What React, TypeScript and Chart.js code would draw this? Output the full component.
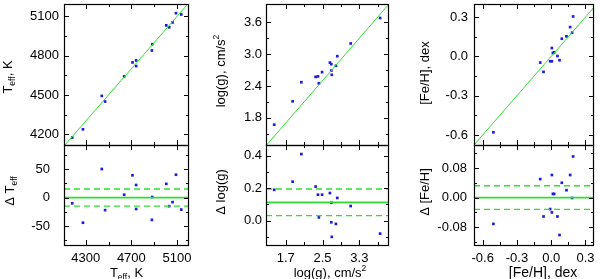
import React, { useEffect, useRef } from "react";
import { Chart, registerables } from "chart.js";
Chart.register(...registerables);

const FONT = '"Liberation Sans", Arial, Helvetica, sans-serif';
const BLUE = "#1c1ce0";
const GREEN = "#2ee02e";

// ---------- Teff ----------
const teffRef = [4182, 4276, 4441, 4470, 4637, 4710, 4742, 4742, 4883, 4880, 5006, 5032, 5061, 5091, 5137];
const teffObs = [4175, 4238, 4493, 4450, 4642, 4749, 4764, 4721, 4888, 4840, 5032, 5017, 5054, 5125, 5115];
const teffDelta = [-10, -44, 50, -22, 5, 39, 22, -20, 1, -39, 24, -15, -8, 40, -21];
const teffMean = 0;
const teffBand = 15;
const teffXTicks = [4300, 4700, 5100];
const teffXMinor = [4500, 4900];
const teffYTicks = [4200, 4500, 4800, 5100];
const teffYMinor = [4350, 4650, 4950];
const teffDTicks = [-50, 0, 50];
const teffDMinor = [-75, -25, 25, 75];

// ---------- log g ----------
const loggRef = [1.45, 1.85, 2.04, 2.35, 2.40, 2.49, 2.42, 2.66, 2.69, 2.69, 2.82, 2.79, 2.70, 3.11, 3.75];
const loggObs = [1.67, 2.11, 2.47, 2.57, 2.58, 2.66, 2.45, 2.84, 2.81, 2.69, 2.96, 2.78, 2.61, 3.20, 3.68];
const loggDelta = [0.19, 0.24, 0.41, 0.21, 0.16, 0.16, 0.02, 0.17, 0.11, -0.01, 0.14, -0.02, -0.10, 0.09, -0.08];
const loggMean = 0.113;
const loggBand = 0.082;
const loggXTicks = [1.7, 2.5, 3.3];
const loggXMinor = [2.1, 2.9, 3.7];
const loggYTicks = [1.8, 2.4, 3.0, 3.6];
const loggYMinor = [1.5, 2.1, 2.7, 3.3];
const loggDTicks = [0.0, 0.2, 0.4];
const loggDMinor = [-0.1, 0.1, 0.3];

// ---------- [Fe/H] ----------
const fehRef = [-0.506, -0.096, -0.067, -0.009, 0.006, 0.006, 0.015, 0.026, 0.055, 0.073, 0.093, 0.134, 0.166, 0.183, 0.192];
const fehObs = [-0.579, -0.047, -0.118, -0.037, 0.064, -0.037, 0.026, 0.031, 0.003, -0.029, 0.135, 0.153, 0.224, 0.181, 0.305];
const fehDelta = [-0.071, 0.050, -0.051, -0.031, 0.061, -0.040, 0.010, 0.010, -0.051, -0.101, 0.040, 0.020, 0.061, -0.001, 0.111];
const fehMean = 0.0;
const fehBand = 0.032;
const fehXTicks = [-0.6, -0.3, 0.0, 0.3];
const fehXMinor = [-0.45, -0.15, 0.15];
const fehYTicks = [-0.6, -0.3, 0.0, 0.3];
const fehYMinor = [-0.45, -0.15, 0.15];
const fehDTicks = [-0.08, 0.0, 0.08];
const fehDMinor = [-0.12, -0.04, 0.04, 0.12];

// axis ranges
const teffX = [4110, 5205];
const teffY = [4118, 5195];
const teffD = [-83, 92];
const loggX = [1.272, 3.943];
const loggY = [1.287, 3.944];
const loggD = [-0.15, 0.466];
const fehX = [-0.676, 0.375];
const fehY = [-0.676, 0.4];
const fehD = [-0.128, 0.142];

type Part = { t: string; s?: number; dy?: number };
type TitleSpec = { parts: Part[]; x: number; y: number; rot: boolean };

type PanelCfg = {
  ox: number; oy: number; w: number; h: number;
  L: number; R: number; T: number; B: number;
  xr: number[]; yr: number[];
  xMajor: number[]; xMinor: number[]; yMajor: number[]; yMinor: number[];
  showX: boolean; xDec: number; yDec: number; yPad: number;
  datasets: any[];
  titles: TitleSpec[];
};

function pointsSet(xs: number[], ys: number[]) {
  return {
    data: xs.map((x, i) => ({ x, y: ys[i] })),
    pointStyle: "rect",
    pointRadius: 1.9,
    pointBorderWidth: 0,
    backgroundColor: BLUE,
    borderColor: BLUE,
    showLine: false,
  };
}

function lineSet(x0: number, y0: number, x1: number, y1: number, width: number, dash: number[]) {
  return {
    data: [{ x: x0, y: y0 }, { x: x1, y: y1 }],
    showLine: true,
    borderColor: GREEN,
    borderWidth: width,
    borderDash: dash,
    pointRadius: 0,
    fill: false,
  };
}

function drawRich(ctx: CanvasRenderingContext2D, parts: Part[], x: number, y: number, rot: boolean) {
  ctx.save();
  ctx.fillStyle = "#000";
  ctx.textBaseline = "alphabetic";
  ctx.textAlign = "left";
  let total = 0;
  const widths = parts.map((p) => {
    ctx.font = `${p.s ?? 13}px ${FONT}`;
    const w = ctx.measureText(p.t).width;
    total += w;
    return w;
  });
  ctx.translate(x, y);
  if (rot) ctx.rotate(-Math.PI / 2);
  let cx = -total / 2;
  parts.forEach((p, i) => {
    ctx.font = `${p.s ?? 13}px ${FONT}`;
    ctx.fillText(p.t, cx, p.dy ?? 0);
    cx += widths[i];
  });
  ctx.restore();
}

const X_LABEL_Y = 258; // page y of x tick label centres

function makeConfig(p: PanelCfg): any {
  const framePlugin = {
    id: "frame",
    afterDraw(chart: any) {
      const { ctx, chartArea: a, scales } = chart;
      const xs = scales.x, ys = scales.y;
      ctx.save();
      ctx.strokeStyle = "#000";
      ctx.lineWidth = 1;
      ctx.beginPath();
      const vt = (vals: number[], len: number) => {
        vals.forEach((v) => {
          const px = Math.round(xs.getPixelForValue(v)) + 0.5;
          ctx.moveTo(px, a.bottom);
          ctx.lineTo(px, a.bottom - len);
          ctx.moveTo(px, a.top);
          ctx.lineTo(px, a.top + len);
        });
      };
      const ht = (vals: number[], len: number) => {
        vals.forEach((v) => {
          const py = Math.round(ys.getPixelForValue(v)) + 0.5;
          ctx.moveTo(a.left, py);
          ctx.lineTo(a.left + len, py);
          ctx.moveTo(a.right, py);
          ctx.lineTo(a.right - len, py);
        });
      };
      vt(p.xMajor, 5);
      vt(p.xMinor, 3);
      ht(p.yMajor, 5);
      ht(p.yMinor, 3);
      ctx.stroke();
      ctx.lineWidth = 1.2;
      ctx.strokeRect(a.left + 0.5, a.top + 0.5, a.right - a.left - 1, a.bottom - a.top);
      if (p.showX) {
        ctx.fillStyle = "#000";
        ctx.font = `13px ${FONT}`;
        ctx.textAlign = "center";
        ctx.textBaseline = "middle";
        p.xMajor.forEach((v) => {
          ctx.fillText(v.toFixed(p.xDec), xs.getPixelForValue(v), X_LABEL_Y - p.oy);
        });
      }
      ctx.restore();
      p.titles.forEach((t) => drawRich(ctx, t.parts, t.x - p.ox, t.y - p.oy, t.rot));
    },
  };
  return {
    type: "scatter",
    data: { datasets: p.datasets },
    options: {
      responsive: false,
      animation: false,
      events: [],
      layout: { padding: { left: 0, right: p.ox + p.w - p.R, top: p.T - p.oy, bottom: p.oy + p.h - p.B } },
      plugins: { legend: { display: false }, tooltip: { enabled: false }, title: { display: false } },
      scales: {
        x: {
          type: "linear",
          min: p.xr[0],
          max: p.xr[1],
          grid: { display: false, drawTicks: false },
          border: { display: false },
          afterBuildTicks: (s: any) => {
            s.ticks = p.xMajor.map((v) => ({ value: v }));
          },
          afterFit: (s: any) => {
            s.height = 0;
            s.paddingLeft = 0;
            s.paddingRight = 0;
          },
          ticks: { display: false },
        },
        y: {
          type: "linear",
          min: p.yr[0],
          max: p.yr[1],
          grid: { display: false, drawTicks: false },
          border: { display: false },
          afterBuildTicks: (s: any) => {
            s.ticks = p.yMajor.map((v) => ({ value: v }));
          },
          afterFit: (s: any) => {
            s.width = p.L - p.ox;
            s.paddingTop = 0;
            s.paddingBottom = 0;
          },
          ticks: {
            autoSkip: false,
            padding: p.yPad,
            color: "#000",
            font: { size: 13, family: FONT },
            callback: (v: any) => Number(v).toFixed(p.yDec),
          },
        },
      },
    },
    plugins: [framePlugin],
  };
}

const T13 = (t: string): Part => ({ t, s: 13 });
const SUB = (t: string): Part => ({ t, s: 8.5, dy: 3 });
const SUP = (t: string): Part => ({ t, s: 8.5, dy: -6 });

const panels: PanelCfg[] = [
  // Teff top
  {
    ox: 0, oy: 0, w: 200, h: 150, L: 64, R: 189, T: 3, B: 145,
    xr: teffX, yr: teffY, xMajor: teffXTicks, xMinor: teffXMinor, yMajor: teffYTicks, yMinor: teffYMinor,
    showX: false, xDec: 0, yDec: 0, yPad: 5,
    datasets: [
      lineSet(teffX[0] - 500, teffX[0] - 500, teffX[1] + 500, teffX[1] + 500, 1, []),
      pointsSet(teffRef, teffObs),
    ],
    titles: [{ parts: [T13("T"), SUB("eff"), T13(", K")], x: 12, y: 77, rot: true }],
  },
  // Teff bottom
  {
    ox: 0, oy: 140, w: 200, h: 139, L: 64, R: 189, T: 145, B: 245,
    xr: teffX, yr: teffD, xMajor: teffXTicks, xMinor: teffXMinor, yMajor: teffDTicks, yMinor: teffDMinor,
    showX: true, xDec: 0, yDec: 0, yPad: 14,
    datasets: [
      lineSet(teffX[0], teffMean, teffX[1], teffMean, 1.8, []),
      lineSet(teffX[0], teffMean + teffBand, teffX[1], teffMean + teffBand, 1.3, [6, 4]),
      lineSet(teffX[0], teffMean - teffBand, teffX[1], teffMean - teffBand, 1.3, [6, 4]),
      pointsSet(teffRef, teffDelta),
    ],
    titles: [
      { parts: [T13("Δ T"), SUB("eff")], x: 14, y: 191, rot: true },
      { parts: [T13("T"), SUB("eff"), T13(", K")], x: 126.5, y: 277, rot: false },
    ],
  },
  // logg top
  {
    ox: 200, oy: 0, w: 200, h: 150, L: 266, R: 389, T: 3, B: 145,
    xr: loggX, yr: loggY, xMajor: loggXTicks, xMinor: loggXMinor, yMajor: loggYTicks, yMinor: loggYMinor,
    showX: false, xDec: 1, yDec: 1, yPad: 4,
    datasets: [
      lineSet(0, 0, 5, 5, 1, []),
      pointsSet(loggRef, loggObs),
    ],
    titles: [{ parts: [T13("log(g), cm/s"), SUP("2")], x: 225, y: 71, rot: true }],
  },
  // logg bottom
  {
    ox: 200, oy: 140, w: 200, h: 139, L: 266, R: 389, T: 145, B: 245,
    xr: loggX, yr: loggD, xMajor: loggXTicks, xMinor: loggXMinor, yMajor: loggDTicks, yMinor: loggDMinor,
    showX: true, xDec: 1, yDec: 1, yPad: 4,
    datasets: [
      lineSet(loggX[0], loggMean, loggX[1], loggMean, 1.8, []),
      lineSet(loggX[0], loggMean + loggBand, loggX[1], loggMean + loggBand, 1.3, [6, 4]),
      lineSet(loggX[0], loggMean - loggBand, loggX[1], loggMean - loggBand, 1.3, [6, 4]),
      pointsSet(loggRef, loggDelta),
    ],
    titles: [
      { parts: [T13("Δ log(g)")], x: 225, y: 192, rot: true },
      { parts: [T13("log(g), cm/s"), SUP("2")], x: 330, y: 277, rot: false },
    ],
  },
  // FeH top
  {
    ox: 400, oy: 0, w: 200, h: 150, L: 474, R: 594, T: 3, B: 145,
    xr: fehX, yr: fehY, xMajor: fehXTicks, xMinor: fehXMinor, yMajor: fehYTicks, yMinor: fehYMinor,
    showX: false, xDec: 1, yDec: 1, yPad: 6,
    datasets: [
      lineSet(-2, -2, 2, 2, 1, []),
      pointsSet(fehRef, fehObs),
    ],
    titles: [{ parts: [T13("[Fe/H], dex")], x: 429, y: 73, rot: true }],
  },
  // FeH bottom
  {
    ox: 400, oy: 140, w: 200, h: 139, L: 474, R: 594, T: 145, B: 245,
    xr: fehX, yr: fehD, xMajor: fehXTicks, xMinor: fehXMinor, yMajor: fehDTicks, yMinor: fehDMinor,
    showX: true, xDec: 1, yDec: 2, yPad: 7,
    datasets: [
      lineSet(fehX[0], fehMean, fehX[1], fehMean, 1.8, []),
      lineSet(fehX[0], fehMean + fehBand, fehX[1], fehMean + fehBand, 1.3, [6, 4]),
      lineSet(fehX[0], fehMean - fehBand, fehX[1], fehMean - fehBand, 1.3, [6, 4]),
      pointsSet(fehRef, fehDelta),
    ],
    titles: [
      { parts: [T13("Δ [Fe/H]")], x: 429, y: 192, rot: true },
      { parts: [{ t: "[Fe/H], dex", s: 14 }], x: 543, y: 277, rot: false },
    ],
  },
];

function Panel({ cfg }: { cfg: PanelCfg }) {
  const ref = useRef<HTMLCanvasElement>(null);
  useEffect(() => {
    const chart = new Chart(ref.current as HTMLCanvasElement, makeConfig(cfg));
    return () => chart.destroy();
  }, [cfg]);
  return (
    <canvas
      ref={ref}
      width={cfg.w}
      height={cfg.h}
      style={{ position: "absolute", left: cfg.ox, top: cfg.oy, width: cfg.w, height: cfg.h }}
    />
  );
}

export default function App() {
  return (
    <div style={{ position: "absolute", left: 0, top: 0, width: 600, height: 279, background: "#fff" }}>
      {panels.map((p, i) => (
        <Panel key={i} cfg={p} />
      ))}
    </div>
  );
}
